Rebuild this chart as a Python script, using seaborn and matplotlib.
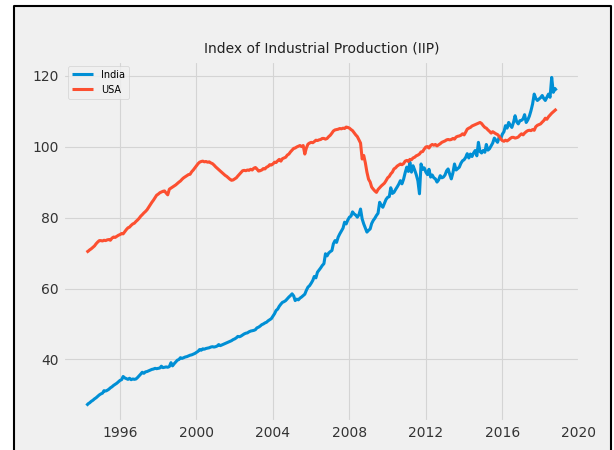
import pandas as pd
import matplotlib
matplotlib.use('Agg')
import matplotlib.pyplot as plt
import matplotlib.dates as mdates
from matplotlib.lines import Line2D
from matplotlib.patches import Rectangle
import seaborn as sns

# Monthly index values, Apr 1994 .. Nov 2018
START_MONTH = '1994-04-01'
SERIES_NAMES = ['India', 'USA']
TITLE = 'Index of Industrial Production (IIP)'

INDIA = [
    27.0, 27.5, 27.8, 28.2, 28.5, 28.9, 29.2, 29.6, 30.0,                     # 1994
    30.3, 30.5, 31.2, 31.1, 31.3, 31.6, 32.0, 32.3, 32.7, 33.0, 33.3, 33.7,   # 1995
    34.1, 34.3, 35.2, 34.8, 34.6, 34.4, 34.7, 34.3, 34.5, 34.4, 34.5, 34.9,   # 1996
    35.4, 35.9, 36.4, 36.1, 36.5, 36.6, 36.8, 37.0, 37.2, 37.3, 37.5, 37.4,   # 1997
    37.5, 37.6, 38.1, 37.7, 37.8, 37.9, 37.8, 38.0, 39.1, 38.2, 38.8, 39.3,   # 1998
    39.8, 40.0, 40.5, 40.3, 40.5, 40.7, 40.8, 41.0, 41.2, 41.3, 41.5, 41.7,   # 1999
    42.0, 42.3, 42.8, 42.6, 43.0, 42.9, 43.1, 43.2, 43.3, 43.5, 43.6, 43.5,   # 2000
    43.6, 43.8, 44.2, 43.9, 44.1, 44.3, 44.5, 44.7, 44.9, 45.1, 45.3, 45.6,   # 2001
    45.8, 46.1, 46.5, 46.4, 46.6, 46.9, 47.2, 47.4, 47.5, 47.8, 48.0, 48.1,   # 2002
    48.2, 48.4, 48.9, 49.1, 49.4, 49.8, 50.0, 50.3, 50.5, 50.9, 51.2, 51.5,   # 2003
    52.2, 52.9, 53.8, 54.2, 55.0, 55.6, 56.1, 56.3, 56.6, 57.1, 57.6, 58.0,   # 2004
    58.5, 57.9, 56.6, 57.0, 56.8, 57.3, 57.6, 58.0, 58.4, 59.5, 60.4, 60.8,   # 2005
    61.5, 62.3, 63.4, 63.0, 64.6, 65.2, 65.8, 66.5, 67.0, 69.8, 69.2, 70.0,   # 2006
    70.4, 70.7, 72.6, 73.5, 73.0, 74.5, 75.4, 76.2, 77.0, 78.7, 78.2, 79.3,   # 2007
    80.1, 80.4, 81.6, 81.0, 80.7, 80.1, 80.8, 82.4, 79.6, 78.2, 77.0, 75.9,   # 2008
    76.4, 76.8, 78.3, 79.2, 79.8, 80.6, 81.2, 84.3, 83.4, 82.9, 84.0, 85.1,   # 2009
    85.7, 85.9, 88.4, 86.8, 87.1, 87.9, 88.6, 89.4, 90.4, 89.5, 90.8, 92.6,   # 2010
    94.2, 93.0, 95.6, 92.8, 94.6, 93.4, 92.1, 90.4, 86.7, 95.1, 93.6, 94.0,   # 2011
    92.8, 92.1, 93.6, 91.4, 92.0, 91.2, 90.9, 90.0, 90.6, 91.8, 91.2, 91.4,   # 2012
    92.0, 93.2, 93.7, 92.2, 90.9, 92.6, 95.1, 93.4, 93.8, 94.2, 95.3, 96.0,   # 2013
    96.3, 97.0, 98.0, 96.8, 97.9, 97.2, 98.2, 98.9, 97.4, 101.2, 98.6, 98.2,  # 2014
    98.9, 98.4, 100.6, 99.0, 99.4, 100.2, 101.0, 102.4, 101.8, 101.2, 102.6, 102.2,  # 2015
    103.5, 104.2, 105.9, 105.2, 106.8, 106.0, 105.4, 106.8, 108.7, 107.0, 106.4, 107.3,  # 2016
    107.4, 107.8, 109.0, 106.8, 107.5, 108.6, 110.1, 112.0, 114.8, 113.6, 113.0, 113.4,  # 2017
    113.8, 114.4, 113.6, 113.0, 113.9, 114.8, 113.9, 119.5, 115.3, 116.4, 115.8,         # 2018
]

USA = [
    70.2, 70.5, 70.9, 71.2, 71.6, 72.0, 72.6, 73.1, 73.5,                     # 1994
    73.5, 73.4, 73.6, 73.5, 73.7, 73.8, 73.6, 74.2, 74.5, 74.4, 74.7, 75.0,   # 1995
    75.2, 75.5, 75.4, 76.0, 76.6, 77.1, 77.3, 77.8, 78.2, 78.4, 78.9, 79.3,   # 1996
    79.8, 80.4, 80.8, 81.3, 81.7, 82.2, 82.9, 83.6, 84.3, 84.9, 85.6, 86.3,   # 1997
    86.6, 87.0, 87.2, 87.4, 87.5, 86.9, 86.4, 88.0, 88.3, 88.6, 88.9, 89.2,   # 1998
    89.6, 90.0, 90.3, 90.8, 91.2, 91.5, 91.8, 92.1, 92.2, 92.9, 93.4, 94.0,   # 1999
    94.6, 95.2, 95.6, 95.8, 95.9, 95.7, 95.8, 95.6, 95.7, 95.4, 95.2, 94.8,   # 2000
    94.3, 93.9, 93.5, 93.1, 92.7, 92.3, 91.9, 91.6, 91.2, 90.8, 90.5, 90.6,   # 2001
    90.9, 91.2, 91.7, 92.2, 92.7, 93.2, 93.3, 93.2, 93.4, 93.3, 93.6, 93.4,   # 2002
    93.9, 94.1, 93.7, 93.1, 93.2, 93.4, 93.8, 93.7, 94.2, 94.4, 94.9, 94.8,   # 2003
    95.1, 95.6, 95.5, 96.0, 96.4, 95.9, 96.6, 96.8, 97.0, 97.6, 97.9, 98.5,   # 2004
    99.0, 99.5, 99.6, 99.9, 100.1, 100.3, 100.0, 100.3, 97.9, 99.6, 100.7, 101.0,  # 2005
    101.2, 101.1, 101.4, 101.8, 101.7, 101.9, 102.0, 102.3, 102.3, 102.1, 102.3, 102.8,  # 2006
    103.2, 103.8, 104.4, 104.7, 104.8, 104.9, 105.1, 105.0, 105.2, 105.1, 105.5, 105.4,  # 2007
    105.2, 104.8, 104.5, 103.9, 103.3, 102.8, 101.9, 101.0, 96.5, 97.5, 95.4, 92.8,      # 2008
    90.8, 90.0, 88.6, 88.0, 87.5, 87.1, 87.9, 88.4, 88.9, 89.3, 89.7, 90.4,   # 2009
    91.2, 91.6, 92.3, 92.8, 93.7, 94.0, 94.5, 94.8, 95.1, 94.9, 95.2, 95.9,   # 2010
    96.1, 95.8, 96.4, 96.3, 96.8, 97.0, 97.4, 97.6, 97.9, 98.5, 98.6, 99.3,   # 2011
    99.9, 100.0, 99.6, 100.3, 100.6, 100.4, 100.6, 100.2, 100.5, 100.8, 101.2, 101.4,    # 2012
    101.6, 101.9, 102.0, 101.9, 102.0, 102.3, 102.1, 102.7, 102.9, 103.0, 103.2, 103.6,  # 2013
    103.3, 104.1, 104.9, 105.2, 105.4, 105.8, 106.0, 106.2, 106.4, 106.6, 106.8, 106.5,  # 2014
    105.9, 105.4, 105.2, 104.7, 104.3, 103.8, 104.2, 103.9, 103.6, 103.4, 102.9, 102.2,  # 2015
    101.7, 101.5, 101.8, 101.6, 101.9, 102.3, 102.6, 102.6, 102.4, 102.5, 102.7, 103.2,  # 2016
    103.6, 103.3, 103.8, 104.2, 104.5, 104.6, 104.5, 104.8, 104.6, 105.6, 106.0, 106.2,  # 2017
    106.4, 106.9, 107.3, 108.0, 107.7, 108.4, 108.9, 109.4, 109.8, 110.2, 110.6,         # 2018
]

COLORS = {'India': '#008fd5', 'USA': '#fc4f30'}


def build_frame():
    dates = pd.date_range(START_MONTH, periods=len(INDIA), freq='MS')
    df = pd.DataFrame({'date': dates, 'India': INDIA, 'USA': USA})
    return df.melt(id_vars='date', var_name='country', value_name='iip')


def add_frame(fig):
    # grey panel with a black frame on three sides (screenshot is cut at the bottom)
    x0, x1, y1 = 14 / 614, 611 / 614, 1 - 6 / 450
    fig.add_artist(Rectangle((x0, 0), x1 - x0, y1, transform=fig.transFigure,
                             facecolor='#f0f0f0', edgecolor='none', zorder=-1))
    fig.add_artist(Line2D([x0, x0, x1, x1], [0, y1, y1, 0], transform=fig.transFigure,
                          color='black', linewidth=1.5, zorder=-1))


def main():
    plt.style.use('fivethirtyeight')
    df = build_frame()

    fig = plt.figure(figsize=(6.14, 4.5), dpi=100, facecolor='white')
    add_frame(fig)

    ax = fig.add_axes([63 / 614, 28 / 450, 517 / 614, 361 / 450])
    sns.lineplot(data=df, x='date', y='iip', hue='country',
                 hue_order=SERIES_NAMES, palette=COLORS, linewidth=2.2, ax=ax)

    ax.set_title(TITLE, fontsize=10, pad=6, color='#222222')
    ax.set_xlabel('')
    ax.set_ylabel('')
    ax.xaxis.set_major_locator(mdates.YearLocator(4))
    ax.xaxis.set_major_formatter(mdates.DateFormatter('%Y'))
    ax.tick_params(axis='both', labelsize=10, pad=3, labelcolor='#333333')
    ax.grid(True, color='#d4d4d4', linewidth=0.8)

    leg = ax.legend(loc='upper left', fontsize=7, handlelength=2.2)
    leg.get_frame().set_facecolor('#f0f0f0')

    fig.savefig('out.png', dpi=100, facecolor=fig.get_facecolor())


if __name__ == "__main__":
    main()
